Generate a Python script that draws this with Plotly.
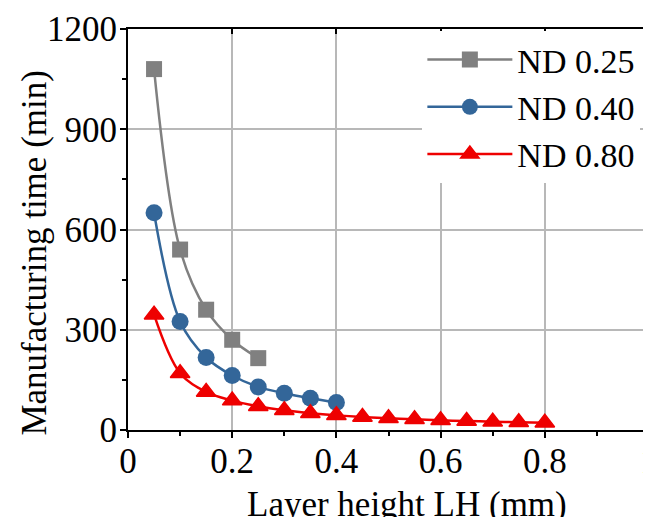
import plotly.graph_objects as go

# ---- data ----
lh_025 = [0.05, 0.10, 0.15, 0.20, 0.25]
time_025 = [1080, 540, 360, 270, 215]

lh_040 = [0.05, 0.10, 0.15, 0.20, 0.25, 0.30, 0.35, 0.40]
time_040 = [650, 325, 217, 163, 129, 110, 95, 82]

lh_080 = [0.05, 0.10, 0.15, 0.20, 0.25, 0.30, 0.35, 0.40,
          0.45, 0.50, 0.55, 0.60, 0.65, 0.70, 0.75, 0.80]
time_080 = [345, 170, 114, 88, 71, 59, 50, 44, 39, 35, 32, 29, 27, 25, 23, 22]

series_names = ["ND 0.25", "ND 0.40", "ND 0.80"]
x_ticks = [0, 0.2, 0.4, 0.6, 0.8, 1.0]
x_ticktext = ["0", "0.2", "0.4", "0.6", "0.8", "1"]
y_ticks = [0, 300, 600, 900, 1200]
y_ticktext = ["0", "300", "600", "900", "1200"]

FONT = "Liberation Serif"
GRAY = "#808080"
BLUE = "#336699"
RED = "#ee0000"

fig = go.Figure()
fig.add_trace(go.Scatter(
    x=lh_025, y=time_025, name=series_names[0], mode="lines+markers",
    line=dict(color=GRAY, width=2.5, shape="spline"),
    marker=dict(symbol="square", size=16, color=GRAY)))
fig.add_trace(go.Scatter(
    x=lh_040, y=time_040, name=series_names[1], mode="lines+markers",
    line=dict(color=BLUE, width=2.5, shape="spline"),
    marker=dict(symbol="circle", size=17, color=BLUE)))
fig.add_trace(go.Scatter(
    x=lh_080, y=time_080, name=series_names[2], mode="lines+markers",
    line=dict(color=RED, width=2.5, shape="spline"),
    marker=dict(symbol="triangle-up", size=17, color=RED,
                line=dict(color=RED, width=1.5))))

axis_common = dict(
    showline=True, linecolor="black", linewidth=2,
    ticks="outside", tickcolor="black", tickwidth=1.5, ticklen=6,
    showgrid=True, gridcolor="#b8b8b8", gridwidth=1.5,
    zeroline=False, ticklabeloverflow="allow",
    tickfont=dict(family=FONT, size=35, color="black"),
)

fig.update_layout(
    width=643, height=509,
    margin=dict(l=120, r=2, t=21, b=87, autoexpand=False),
    paper_bgcolor="white", plot_bgcolor="white",
    font=dict(family=FONT, size=35, color="black"),
    showlegend=True,
    legend=dict(
        x=0.565, y=0.995, xanchor="left", yanchor="top",
        bgcolor="white", borderwidth=0,
        font=dict(family=FONT, size=34, color="black"),
        itemwidth=85, tracegroupgap=0,
    ),
    xaxis=dict(
        range=[0, 1], tickmode="array", tickvals=x_ticks, ticktext=x_ticktext,
        mirror=True, ticklabelstandoff=-7,
        minor=dict(ticks="outside", tickmode="array",
                   tickvals=[0.1, 0.3, 0.5, 0.7, 0.9],
                   ticklen=4, tickwidth=1.5, tickcolor="black", showgrid=False),
        **axis_common),
    yaxis=dict(
        range=[0, 1200], tickmode="array", tickvals=y_ticks, ticktext=y_ticktext,
        mirror=True, ticklabelstandoff=-4,
        minor=dict(ticks="outside", tickmode="array",
                   tickvals=[150, 450, 750, 1050],
                   ticklen=4, tickwidth=1.5, tickcolor="black", showgrid=False),
        **axis_common),
    xaxis2=dict(range=[0, 1], overlaying="x", side="top", tickmode="array",
                tickvals=x_ticks, ticks="inside", ticklen=5, tickwidth=1.5,
                tickcolor="black", showticklabels=False, showgrid=False,
                zeroline=False, showline=False),
    yaxis2=dict(range=[0, 1200], overlaying="y", side="right", tickmode="array",
                tickvals=y_ticks, ticks="inside", ticklen=5, tickwidth=1.5,
                tickcolor="black", showticklabels=False, showgrid=False,
                zeroline=False, showline=False),
    annotations=[
        dict(text="Manufacturing time (min)", xref="paper", yref="paper",
             x=-0.1785, y=0.44, xanchor="center", yanchor="middle",
             textangle=-90, showarrow=False,
             font=dict(family=FONT, size=35, color="black")),
        dict(text="Layer height LH (mm)", xref="paper", yref="paper",
             x=0.5355, y=-0.132, xanchor="center", yanchor="top",
             showarrow=False,
             font=dict(family=FONT, size=35, color="black")),
    ],
)

# invisible helper trace so the mirrored (inside) tick axes are rendered
fig.add_trace(go.Scatter(x=[None], y=[None], xaxis="x2", yaxis="y2",
                         showlegend=False, hoverinfo="skip"))

fig.write_html("out.html")
